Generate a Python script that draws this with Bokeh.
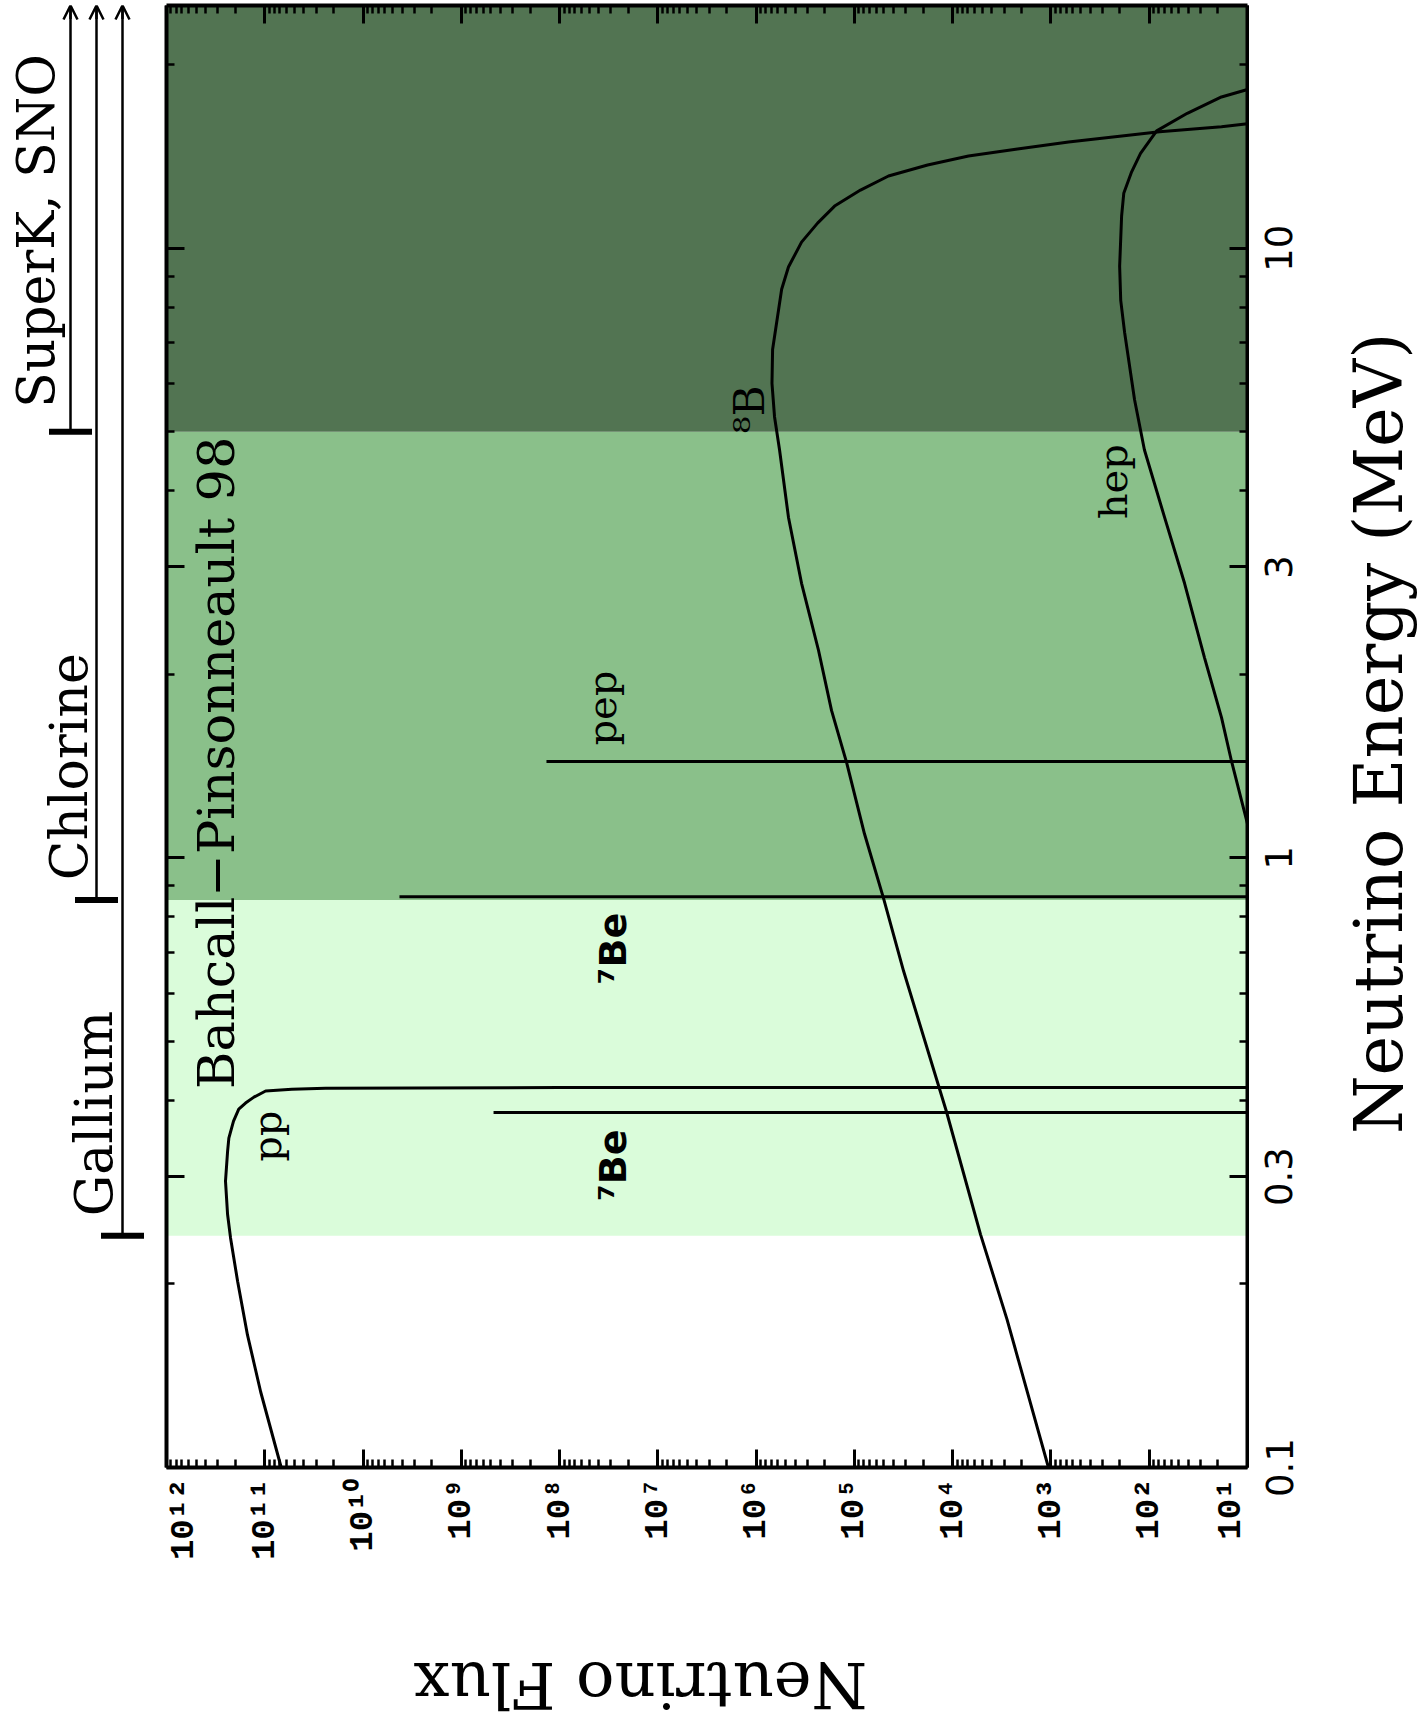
import math
from bokeh.plotting import figure
from bokeh.models import Range1d, FixedTicker, LogAxis, Label, Arrow, OpenHead
from bokeh.layouts import row, column
from bokeh.embed import file_html
from bokeh.resources import INLINE

# ---------------- data ----------------
# pp continuum: energy (MeV) and flux
pp_energy = [0.100, 0.133, 0.165, 0.202, 0.238, 0.260, 0.295, 0.330, 0.347, 0.370, 0.387, 0.396, 0.405,
             0.4145, 0.4172, 0.4188, 0.4199, 0.4200]
pp_flux = [6.8e10, 1.10e11, 1.50e11, 1.89e11, 2.23e11, 2.39e11, 2.51e11, 2.39e11, 2.32e11, 2.08e11, 1.84e11,
           1.57e11, 1.29e11, 9.8e10, 5.3e10, 2.41e10, 1e8, 10]

# 8B continuum
b8_energy = [0.100, 0.175, 0.241, 0.384, 0.652, 0.859, 1.095, 1.433, 1.745, 2.19, 2.82, 3.62, 4.67, 5.29,
             6.0, 6.82, 8.56, 9.31, 10.23, 10.99, 11.72, 12.45, 13.13, 13.69, 14.16, 14.54, 14.93, 15.52,
             15.82, 16.0]
b8_flux = [1.06e3, 2.8e3, 5.2e3, 1.16e4, 3.16e4, 5.06e4, 7.9e4, 1.2e5, 1.71e5, 2.32e5, 3.45e5, 4.69e5,
           5.78e5, 6.5e5, 6.9e5, 6.8e5, 5.5e5, 4.69e5, 3.45e5, 2.37e5, 1.59e5, 8.67e4, 4.5e4, 1.8e4,
           6.9e3, 2.19e3, 662, 78.5, 18.4, 10]

# hep continuum
hep_energy = [1.137, 1.444, 1.70, 2.13, 2.82, 3.62, 4.67, 5.64, 7.27, 8.21, 9.34, 11.29, 12.30, 13.34,
              14.30, 15.57, 16.64, 17.70, 18.2]
hep_flux = [10, 14.6, 18.4, 27.4, 43.7, 69.9, 112, 141, 178, 195, 200, 191, 181.6, 151, 122.6, 84, 41,
            18.4, 10]

# line sources
line_names = ["7Be", "7Be", "pep"]
line_energy = [0.382, 0.863, 1.439]
line_flux = [4.7e8, 4.26e9, 1.36e8]

# experiment thresholds (MeV)
exp_names = ["Gallium", "Chlorine", "SuperK, SNO"]
exp_threshold = [0.240, 0.853, 5.0]
band_colors = ["#dafcda", "#8ac08a", "#527452"]

# axis ranges and ticks
E_MIN, E_MAX = 0.1, 25.0
F_MIN, F_MAX = 10.0, 1e12
flux_major = [1e1, 1e2, 1e3, 1e4, 1e5, 1e6, 1e7, 1e8, 1e9, 1e10, 1e11, 1e12]
flux_labels = ["10¹", "10²", "10³", "10⁴", "10⁵", "10⁶", "10⁷", "10⁸", "10⁹", "10¹⁰", "10¹¹", "10¹²"]
flux_mantissas = [2, 3, 4, 5, 6, 7, 8, 9]
flux_minor = [m * d for d in flux_major[:-1] for m in flux_mantissas]
energy_major = [0.1, 0.3, 1, 3, 10]
energy_labels = ["0.1", "0.3", "1", "3", "10"]
energy_minor = [0.2, 0.4, 0.5, 0.6, 0.7, 0.8, 0.9, 2, 4, 5, 6, 7, 8, 9, 20]

# ---------------- layout ----------------
TOTAL_W = 1420
H_TOP = 1600
TOP = 5
BOTTOM = 133
LEFT_W = 164
FRAME_W = 1081
MAIN_W = 2 + FRAME_W + 2
RIGHT_W = TOTAL_W - LEFT_W - MAIN_W
RF_BORDER = 66
BOT_H = 124

yr = Range1d(E_MIN, E_MAX)
xr = Range1d(F_MAX, F_MIN)

p = figure(width=MAIN_W, height=H_TOP, x_axis_type="log", y_axis_type="log",
           x_range=xr, y_range=yr, x_axis_location="below", y_axis_location="right",
           output_backend="svg", toolbar_location=None,
           min_border_left=2, min_border_right=2, min_border_top=TOP, min_border_bottom=BOTTOM)
p.outline_line_color = None
p.grid.visible = False
p.background_fill_color = "white"
p.border_fill_color = "white"

xa = p.xaxis[0]
xa.ticker = FixedTicker(ticks=flux_major, minor_ticks=flux_minor)
xa.major_label_overrides = dict(zip(flux_major, flux_labels))
xa.major_label_orientation = math.pi / 2
xa.major_label_text_font = "Liberation Mono"
xa.major_label_text_font_style = "bold"
xa.major_label_text_font_size = "34px"
xa.major_label_standoff = 11

ya = p.yaxis[0]
ya.ticker = FixedTicker(ticks=energy_major, minor_ticks=energy_minor)
ya.major_label_text_font_size = "0px"
ya.major_label_standoff = 0
ya.major_label_overrides = {v: "" for v in energy_major}

top_ax = LogAxis(ticker=FixedTicker(ticks=flux_major, minor_ticks=flux_minor),
                 major_label_text_font_size="0px", major_label_standoff=0,
                 major_label_overrides={v: "" for v in flux_major})
p.add_layout(top_ax, "above")
left_ax = LogAxis(ticker=FixedTicker(ticks=energy_major, minor_ticks=energy_minor),
                  major_label_text_font_size="0px", major_label_standoff=0,
                  major_label_overrides={v: "" for v in energy_major})
p.add_layout(left_ax, "left")

for ax in [xa, ya, top_ax, left_ax]:
    ax.major_tick_in = 18
    ax.major_tick_out = 0
    ax.minor_tick_in = 8
    ax.minor_tick_out = 0
    ax.major_tick_line_width = 3
    ax.minor_tick_line_width = 2.5
    ax.major_tick_line_color = "black"
    ax.minor_tick_line_color = "black"
    ax.axis_line_width = 4
    ax.axis_line_color = "black"
    ax.major_label_text_color = "black"

# energy bands
band_bottom = exp_threshold
band_top = exp_threshold[1:] + [E_MAX]
p.quad(left=[F_MAX] * 3, right=[F_MIN] * 3, bottom=band_bottom, top=band_top,
       fill_color=band_colors, line_color=None)

# spectra
p.line(pp_flux, pp_energy, line_color="black", line_width=3)
p.line(b8_flux, b8_energy, line_color="black", line_width=3)
p.line(hep_flux, hep_energy, line_color="black", line_width=3)
p.segment(x0=line_flux, y0=line_energy, x1=[F_MIN] * len(line_flux), y1=line_energy,
          line_color="black", line_width=3)


def lab(fig, x, y, text, size, font="DejaVu Serif", style="normal", angle=math.pi / 2,
        align="center", baseline="alphabetic"):
    fig.add_layout(Label(x=x, y=y, text=text, angle=angle, text_font=font,
                         text_font_size=size, text_font_style=style, text_color="black",
                         text_align=align, text_baseline=baseline))


lab(p, 9.6e10, 0.3495, "pp", "40px")
lab(p, 2.86e7, 0.3133, "⁷Be", "38px", font="DejaVu Sans", style="bold")
lab(p, 2.86e7, 0.710, "⁷Be", "38px", font="DejaVu Sans", style="bold")
lab(p, 3.66e7, 1.76, "pep", "40px")
lab(p, 1.17e6, 5.44, "⁸B", "42px")
lab(p, 236, 4.14, "hep", "40px")
lab(p, 3.09e11, 0.4175, "Bahcall−Pinsonneault 98", "51px", align="left")

# ---------------- left panel: experiment thresholds ----------------
lf = figure(width=LEFT_W, height=H_TOP, x_range=Range1d(0, LEFT_W), y_range=yr, y_axis_type="log",
            x_axis_location=None, y_axis_location=None, output_backend="svg", toolbar_location=None,
            min_border_left=0, min_border_right=0, min_border_top=TOP, min_border_bottom=BOTTOM)
lf.outline_line_color = None
lf.grid.visible = False
lf.background_fill_color = "white"
lf.border_fill_color = "white"

exp_x = [122, 96, 70]
half = 21.5
lf.segment(x0=exp_x, y0=exp_threshold, x1=exp_x, y1=[E_MAX] * 3, line_color="black", line_width=2.5)
lf.segment(x0=[x - half for x in exp_x], y0=exp_threshold, x1=[x + half for x in exp_x],
           y1=exp_threshold, line_color="black", line_width=6)
for x in exp_x:
    lf.add_layout(Arrow(end=OpenHead(size=14, line_width=2.5, line_color="black"),
                        x_start=x, y_start=E_MAX * 0.95, x_end=x, y_end=E_MAX,
                        line_width=2.5, line_color="black"))

lab(lf, 93, 0.3806, "Gallium", "52px")
lab(lf, 68, 1.41, "Chlorine", "52px")
lab(lf, 35, 10.67, "SuperK, SNO", "52px")

# ---------------- right panel: energy tick labels and axis title ----------------
rf = figure(width=RIGHT_W, height=H_TOP, x_range=Range1d(0, RIGHT_W - RF_BORDER), y_range=yr,
            y_axis_type="log", x_axis_location=None, y_axis_location="left", output_backend="svg",
            toolbar_location=None, min_border_left=RF_BORDER, min_border_right=0, min_border_top=TOP,
            min_border_bottom=BOTTOM)
rf.outline_line_color = None
rf.grid.visible = False
rf.background_fill_color = "white"
rf.border_fill_color = "white"
ea = rf.yaxis[0]
ea.ticker = FixedTicker(ticks=energy_major, minor_ticks=[])
ea.major_label_overrides = dict(zip(energy_major, energy_labels))
ea.major_label_orientation = "vertical"
ea.major_label_text_font = "DejaVu Sans"
ea.major_label_text_font_size = "37px"
ea.major_label_text_color = "black"
ea.major_label_standoff = 23
ea.axis_line_color = None
ea.major_tick_line_color = None
ea.minor_tick_line_color = None
ea.major_tick_in = 0
ea.major_tick_out = 0
ea.minor_tick_in = 0
ea.minor_tick_out = 0
lab(rf, 63, 1.60, "Neutrino Energy (MeV)", "67px")

# ---------------- bottom panel: flux axis title ----------------
bf = figure(width=TOTAL_W, height=BOT_H, x_range=Range1d(0, TOTAL_W), y_range=Range1d(0, BOT_H),
            x_axis_location=None, y_axis_location=None, output_backend="svg", toolbar_location=None,
            min_border_left=0, min_border_right=0, min_border_top=0, min_border_bottom=0)
bf.outline_line_color = None
bf.grid.visible = False
bf.background_fill_color = "white"
bf.border_fill_color = "white"
lab(bf, 640, 40, "Neutrino Flux", "64px", angle=math.pi)

layout = column(row(lf, p, rf), bf)
open("out.html", "w").write(file_html(layout, INLINE))
